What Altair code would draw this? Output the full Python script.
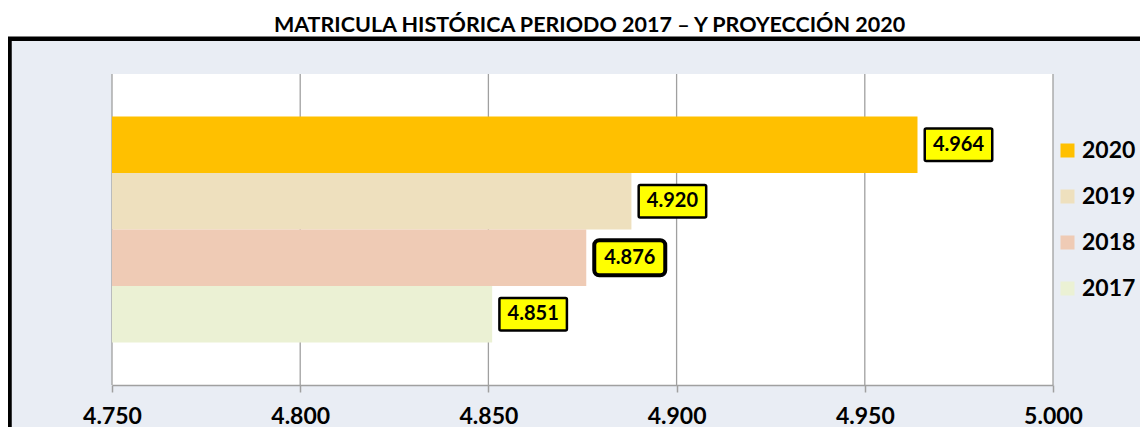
import altair as alt
import pandas as pd

# ---- data ----
years = ["2020", "2019", "2018", "2017"]
bar_values = [4.964, 4.888, 4.876, 4.851]          # bar lengths as drawn
label_texts = ["4.964", "4.920", "4.876", "4.851"]  # printed data labels
colors = ["#FFC000", "#EEE0BE", "#EFCBB5", "#EBF1D4"]
tick_values = [4.75, 4.80, 4.85, 4.90, 4.95, 5.00]
x_min, x_max = 4.75, 5.00
title_text = "MATRICULA HISTÓRICA PERIODO 2017 – Y PROYECCIÓN 2020"

df = pd.DataFrame({"year": years, "value": bar_values, "label": label_texts,
                   "base": [x_min] * len(years)})
ticks_df = pd.DataFrame({"tick": tick_values})
one = pd.DataFrame({"k": [0]})

W, H = 941, 311
FONT = "Lato"
GRID = "#A0A0A0"

x_scale = alt.Scale(domain=[x_min, x_max], zero=False, nice=False)
y_scale = alt.Scale(domain=years, paddingInner=0, paddingOuter=0.75)
color_scale = alt.Scale(domain=years, range=colors)

x_axis = alt.Axis(values=tick_values, format=".3f", grid=False, title=None,
                  domainColor=GRID, domainWidth=1.5, tickColor=GRID, tickWidth=1.5,
                  tickSize=7, labelFont=FONT, labelFontSize=23, labelFontWeight="bold",
                  labelColor="black", labelPadding=13, zindex=1,
                  labelFlush=False, labelOverlap=False)

def X(field):
    return alt.X(field, type="quantitative", scale=x_scale, axis=x_axis)

Y = alt.Y("year:N", scale=y_scale, axis=None, sort=years)

frame = alt.Chart(one).mark_rect(fill="#E9EDF4", stroke="black", strokeWidth=4.5).encode(
    x=alt.value(-102.5), x2=alt.value(1100), y=alt.value(-35.3), y2=alt.value(450))

plot_bg = alt.Chart(one).mark_rect(fill="white").encode(
    x=alt.value(0), x2=alt.value(W), y=alt.value(0), y2=alt.value(H))

grid = alt.Chart(ticks_df).mark_rule(color=GRID, strokeWidth=1.3).encode(x=X("tick"))

bars = alt.Chart(df).mark_bar().encode(
    x=X("value"), x2=alt.X2("base"), y=Y,
    color=alt.Color("year:N", scale=color_scale,
                    legend=alt.Legend(title=None, orient="none", legendX=944, legendY=65,
                                      symbolType="square", symbolSize=196,
                                      symbolStrokeWidth=0, labelFont=FONT,
                                      labelFontSize=23, labelFontWeight="bold",
                                      labelColor="black", rowPadding=22, padding=0,
                                      labelOffset=3, zindex=1)))

box_normal = alt.Chart(df).transform_filter(alt.datum.year != "2018").mark_bar(
    size=32.5, xOffset=7.25, x2Offset=74.75, fill="#FFFF00", stroke="black",
    strokeWidth=2.5, cornerRadius=1.5).encode(x=X("value"), x2=alt.X2("value"), y=Y)

box_2018 = alt.Chart(df).transform_filter(alt.datum.year == "2018").mark_bar(
    size=35, xOffset=8, x2Offset=79, fill="#FFFF00", stroke="black",
    strokeWidth=4, cornerRadius=5).encode(x=X("value"), x2=alt.X2("value"), y=Y)

txt_normal = alt.Chart(df).transform_filter(alt.datum.year != "2018").mark_text(
    dx=41, font=FONT, fontSize=20, fontWeight="bold", color="black",
    align="center", baseline="middle").encode(x=X("value"), y=Y, text="label:N")

txt_2018 = alt.Chart(df).transform_filter(alt.datum.year == "2018").mark_text(
    dx=43.5, font=FONT, fontSize=20, fontWeight="bold", color="black",
    align="center", baseline="middle").encode(x=X("value"), y=Y, text="label:N")

chart = alt.layer(frame, plot_bg, grid, bars, box_normal, box_2018, txt_normal, txt_2018).properties(
    width=W, height=H,
    title=alt.TitleParams(text=title_text, font=FONT, fontSize=21.5, fontWeight="bold",
                          color="black", anchor="middle", frame="group",
                          baseline="alphabetic", offset=8, dx=7, dy=25, zindex=1),
    autosize=alt.AutoSizeParams(type="none"),
    padding={"left": 104, "top": 66, "right": 87, "bottom": 42},
).configure_view(strokeWidth=0)

chart.save("out.html", embed_options={"renderer": "svg", "actions": False})
